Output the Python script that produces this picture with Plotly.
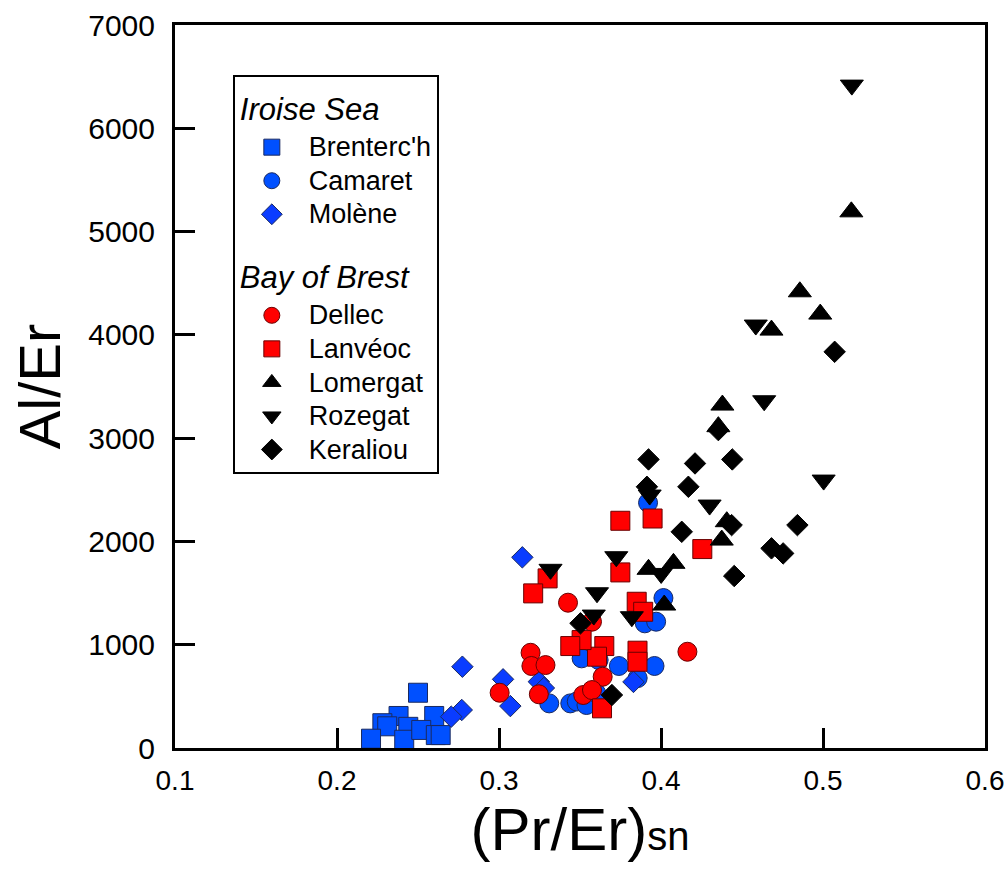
import plotly.graph_objects as go

# ---------------- data ----------------
brenterch_x = [0.250, 0.238, 0.228, 0.231, 0.260, 0.221, 0.244, 0.2415, 0.252, 0.261, 0.264]
brenterch_y = [535, 310, 240, 210, 310, 90, 205, 80, 175, 125, 125]

camaret_x = [0.331, 0.344, 0.348, 0.354, 0.351, 0.3615, 0.374, 0.396, 0.3856, 0.390, 0.397, 0.4015, 0.392, 0.360]
camaret_y = [432, 432, 450, 416, 868, 852, 794, 794, 677, 1207, 1223, 1452, 2375, 532]

molene_x = [0.2774, 0.277, 0.2705, 0.3144, 0.3025, 0.307, 0.3246, 0.3277, 0.383]
molene_y = [787, 368, 303, 1846, 665, 406, 642, 581, 640]

dellec_x = [0.3004, 0.3195, 0.320, 0.3287, 0.3246, 0.3426, 0.3574, 0.364, 0.352, 0.3574, 0.4163]
dellec_y = [535, 922, 794, 803, 520, 1407, 1223, 690, 513, 561, 932]

lanveoc_x = [0.3749, 0.3948, 0.3300, 0.3211, 0.3749, 0.4255, 0.3850, 0.3890, 0.3855, 0.3855,
             0.3650, 0.3605, 0.3510, 0.3440, 0.3636]
lanveoc_y = [2200, 2222, 1642, 1497, 1700, 1926, 1416, 1319, 942, 835, 987, 884, 1045, 987, 384]

lomergat_x = [0.5175, 0.4857, 0.4983, 0.4682, 0.4379, 0.4354, 0.4406, 0.4375, 0.4077, 0.3923, 0.402]
lomergat_y = [5191, 4417, 4201, 4046, 3320, 3111, 2191, 2013, 1788, 1730, 1384]

rozegat_x = [0.5178, 0.4585, 0.4637, 0.5004, 0.393, 0.430, 0.3724, 0.4001, 0.3605, 0.3585, 0.382, 0.3318]
rozegat_y = [6418, 4095, 3362, 2594, 2449, 2352, 1852, 1690, 1503, 1287, 1271, 1730]

keraliou_x = [0.5072, 0.4354, 0.3923, 0.421, 0.444, 0.3913, 0.4169, 0.4128, 0.4436, 0.4842,
              0.4682, 0.4754, 0.4452, 0.3697, 0.3503]
keraliou_y = [3836, 3078, 2794, 2755, 2794, 2529, 2529, 2093, 2158, 2158, 1933, 1884, 1665, 513, 1207]

x_ticks = [0.1, 0.2, 0.3, 0.4, 0.5, 0.6]
x_tick_labels = ["0.1", "0.2", "0.3", "0.4", "0.5", "0.6"]
y_ticks = [0, 1000, 2000, 3000, 4000, 5000, 6000, 7000]
y_tick_labels = ["0", "1000", "2000", "3000", "4000", "5000", "6000", "7000"]

group_iroise = "Iroise Sea"
group_brest = "Bay of Brest"

# ---------------- styles ----------------
BLUE = "#0050ff"
BLUE2 = "#0a3cff"
RED = "#ff0000"
BLACK = "#000000"
FONT = "Liberation Sans, Arial, sans-serif"
LEGEND_TEXT_PX = 27
GROUP_TITLE_PX = 31

series = [
    ("Brenterc'h", brenterch_x, brenterch_y, "square", 19, BLUE, "#1a2a60", "iroise", group_iroise),
    ("Camaret", camaret_x, camaret_y, "circle", 19, BLUE, "#1a2a60", "iroise", group_iroise),
    ("Molène", molene_x, molene_y, "diamond", 16.5, BLUE2, "#1a2a60", "iroise", group_iroise),
    ("Dellec", dellec_x, dellec_y, "circle", 19, RED, "#6a0000", "brest", group_brest),
    ("Lanvéoc", lanveoc_x, lanveoc_y, "square", 19, RED, "#6a0000", "brest", group_brest),
    ("Lomergat", lomergat_x, lomergat_y, "triangle-up", 20, BLACK, BLACK, "brest", group_brest),
    ("Rozegat", rozegat_x, rozegat_y, "triangle-down", 20, BLACK, BLACK, "brest", group_brest),
    ("Keraliou", keraliou_x, keraliou_y, "diamond", 16.5, BLACK, BLACK, "brest", group_brest),
]

fig = go.Figure()
for name, xs, ys, sym, size, fill, edge, grp, gtitle in series:
    fig.add_trace(go.Scatter(
        x=xs, y=ys, mode="markers",
        name=f"<span style='font-size:{LEGEND_TEXT_PX}px'>{name}</span>",
        legendgroup=grp,
        legendgrouptitle=dict(
            text=f"<span style='font-size:{GROUP_TITLE_PX}px'>{gtitle}</span>",
            font=dict(family=FONT, size=35, style="italic", color="black")),
        marker=dict(symbol=sym, size=size, color=fill, line=dict(color=edge, width=1)),
        hovertemplate=name + ": (%{x}, %{y})<extra></extra>",
    ))

axis_common = dict(
    showline=True, linecolor="black", linewidth=3, mirror=True,
    ticks="inside", ticklen=20, tickwidth=2.5, tickcolor="black",
    showgrid=False, zeroline=False, automargin=False,
    ticklabeloverflow="allow",
)

fig.update_layout(
    width=1005, height=874,
    margin=dict(l=175, r=20, t=25, b=126, autoexpand=False),
    plot_bgcolor="white", paper_bgcolor="white",
    font=dict(family=FONT, color="black"),
    xaxis=dict(range=[0.1, 0.6], tickvals=x_ticks, ticktext=x_tick_labels,
               tickfont=dict(family=FONT, size=28, color="black"),
               title=dict(text="(Pr/Er)<span style='font-size:40px'>sn</span>",
                          font=dict(family=FONT, size=60), standoff=10),
               ticklabelstandoff=5, **axis_common),
    yaxis=dict(range=[0, 7000], tickvals=y_ticks, ticktext=y_tick_labels,
               tickfont=dict(family=FONT, size=30, color="black"),
               title=dict(text="Al/Er", font=dict(family=FONT, size=58), standoff=9),
               ticklabelstandoff=11, **axis_common),
    showlegend=True,
    legend=dict(x=0.0714, y=0.931, xanchor="left", yanchor="top",
                bordercolor="black", borderwidth=2, bgcolor="white",
                font=dict(family=FONT, size=23.5, color="black"),
                traceorder="grouped", tracegroupgap=19, itemwidth=64),
)

fig.write_html("out.html")
